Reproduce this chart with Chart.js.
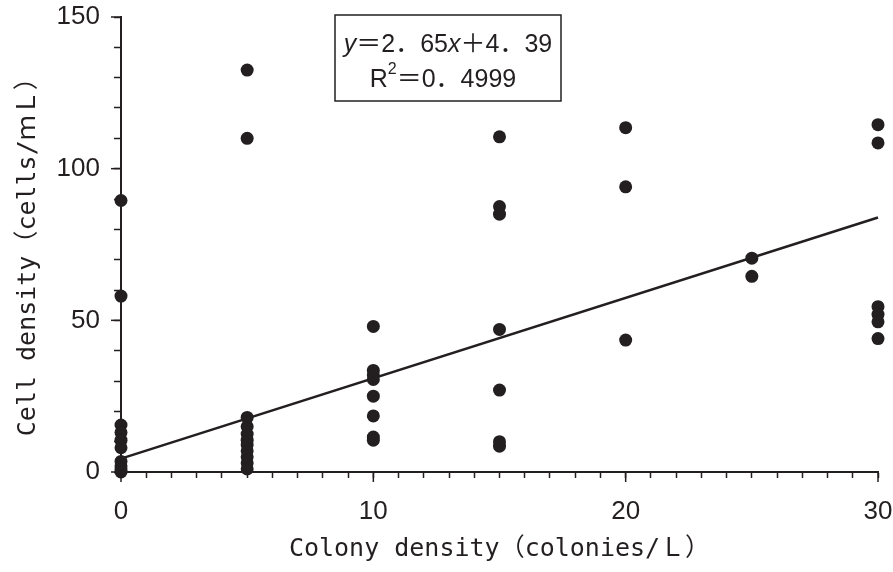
<!DOCTYPE html>
<html>
<head>
<meta charset="utf-8">
<script src="https://cdn.jsdelivr.net/npm/chart.js@4"></script>
<style>
  html, body { margin: 0; padding: 0; background: #fff; }
</style>
</head>
<body>
<canvas id="chart" width="893" height="572"></canvas>
<script>
// data
const colonyDensity = [
  0, 0, 0, 0, 0, 0, 0, 0, 0, 0,
  5, 5, 5, 5, 5, 5, 5, 5, 5, 5, 5,
  10, 10, 10, 10, 10, 10, 10, 10,
  15, 15, 15, 15, 15, 15, 15,
  20, 20, 20,
  25, 25,
  30, 30, 30, 30, 30, 30
];
const cellDensity = [
  89.5, 58, 15.5, 13, 10.5, 8, 3.5, 2, 1, 0,
  132.5, 110, 18, 15, 12.5, 10.5, 9, 7, 5, 3, 1,
  48, 33.5, 32, 30.5, 25, 18.5, 11.5, 10.5,
  110.5, 87.5, 85, 47, 27, 10, 8.5,
  113.5, 94, 43.5,
  70.5, 64.5,
  114.5, 108.5, 54.5, 52, 49.5, 44
];
// regression line y = 2.65x + 4.39, end points
const trendX = [0, 30];
const trendY = [4.39, 83.89];

const xTickLabels = [0, 10, 20, 30];
const yTickLabels = [0, 50, 100, 150];

const INK = '#231f20';
const NUM_FONT = '"Liberation Sans", "Noto Sans CJK JP", sans-serif';
const TITLE_FONT = '"DejaVu Sans Mono", "Noto Sans CJK JP", monospace';

const points = colonyDensity.map((x, i) => ({x: x, y: cellDensity[i]}));
const trend = trendX.map((x, i) => ({x: x, y: trendY[i]}));

//draws the longer major ticks and the equation box
const extrasPlugin = {
  id: 'extras',
  afterDraw(chart) {
    const ctx = chart.ctx;
    const xs = chart.scales.x;
    const ys = chart.scales.y;
    ctx.save();
    ctx.strokeStyle = INK;
    ctx.lineWidth = 1.5;
    xTickLabels.forEach(v => {
      const px = xs.getPixelForValue(v);
      ctx.beginPath();
      ctx.moveTo(px, xs.top);
      ctx.lineTo(px, xs.top + 10);
      ctx.stroke();
    });
    yTickLabels.forEach(v => {
      const py = ys.getPixelForValue(v);
      ctx.beginPath();
      ctx.moveTo(ys.right, py);
      ctx.lineTo(ys.right - 10, py);
      ctx.stroke();
    });

    // equation box
    ctx.strokeRect(335, 15, 226, 86);
    ctx.fillStyle = INK;
    ctx.textBaseline = 'alphabetic';
    drawRuns(ctx, [
      {t: 'y', italic: true},
      {t: '＝2．65'},
      {t: 'x', italic: true},
      {t: '＋4．39'}
    ], 448, 52);
    drawRuns(ctx, [
      {t: 'R'},
      {t: '2', size: 16, dy: -13},
      {t: '＝0．4999'}
    ], 443, 87);
    ctx.restore();
  }
};

function runFont(r) {
  return (r.italic ? 'italic ' : '') + (r.size || 25) + 'px ' + NUM_FONT;
}

function drawRuns(ctx, runs, cx, baseline) {
  let total = 0;
  runs.forEach(r => {
    ctx.font = runFont(r);
    r.w = ctx.measureText(r.t).width;
    total += r.w;
  });
  let x = cx - total / 2;
  runs.forEach(r => {
    ctx.font = runFont(r);
    ctx.fillText(r.t, x, baseline + (r.dy || 0));
    x += r.w;
  });
}

const config = {
  type: 'scatter',
  data: {
    datasets: [{
      label: 'data',
      data: points,
      backgroundColor: INK,
      borderWidth: 0,
      pointRadius: 6.5,
      pointHoverRadius: 6.5,
      clip: false
    }, {
      type: 'line',
      label: 'trend',
      data: trend,
      borderColor: INK,
      borderWidth: 2.5,
      pointRadius: 0,
      fill: false,
      clip: false
    }]
  },
  options: {
    responsive: false,
    animation: false,
    layout: {padding: {top: 17, right: 15, left: 0, bottom: 0}},
    plugins: {
      legend: {display: false},
      tooltip: {enabled: false}
    },
    scales: {
      x: {
        type: 'linear',
        min: 0,
        max: 30,
        afterFit: (scale) => {
          scale.height = 100;
          scale.paddingLeft = 0;
          scale.paddingRight = 0;
        },
        ticks: {
          stepSize: 1,
          autoSkip: false,
          maxRotation: 0,
          padding: 18,
          color: INK,
          font: {family: NUM_FONT, size: 26},
          callback: (v) => xTickLabels.includes(v) ? String(v) : ''
        },
        grid: {
          drawOnChartArea: false,
          tickLength: 6,
          tickColor: INK,
          tickWidth: 1.5
        },
        border: {color: INK, width: 2},
        title: {
          display: true,
          text: 'Colony density（colonies/Ｌ）',
          color: INK,
          font: {family: TITLE_FONT, size: 25},
          padding: {top: 0, bottom: 8}
        }
      },
      y: {
        min: 0,
        max: 150,
        afterFit: (scale) => {
          scale.width = 121;
          scale.paddingTop = 0;
          scale.paddingBottom = 0;
        },
        ticks: {
          stepSize: 10,
          autoSkip: false,
          padding: 14,
          color: INK,
          font: {family: NUM_FONT, size: 26},
          callback: (v) => yTickLabels.includes(v) ? String(v) : ''
        },
        grid: {
          drawOnChartArea: false,
          tickLength: 7,
          tickColor: INK,
          tickWidth: 1.5
        },
        border: {color: INK, width: 2},
        title: {
          display: true,
          text: 'Cell density（cells/ｍＬ）　',
          color: INK,
          font: {family: TITLE_FONT, size: 25},
          padding: {top: 13, bottom: 0}
        }
      }
    }
  },
  plugins: [extrasPlugin]
};

const myChart = new Chart(document.getElementById('chart'), config);
</script>
</body>
</html>
